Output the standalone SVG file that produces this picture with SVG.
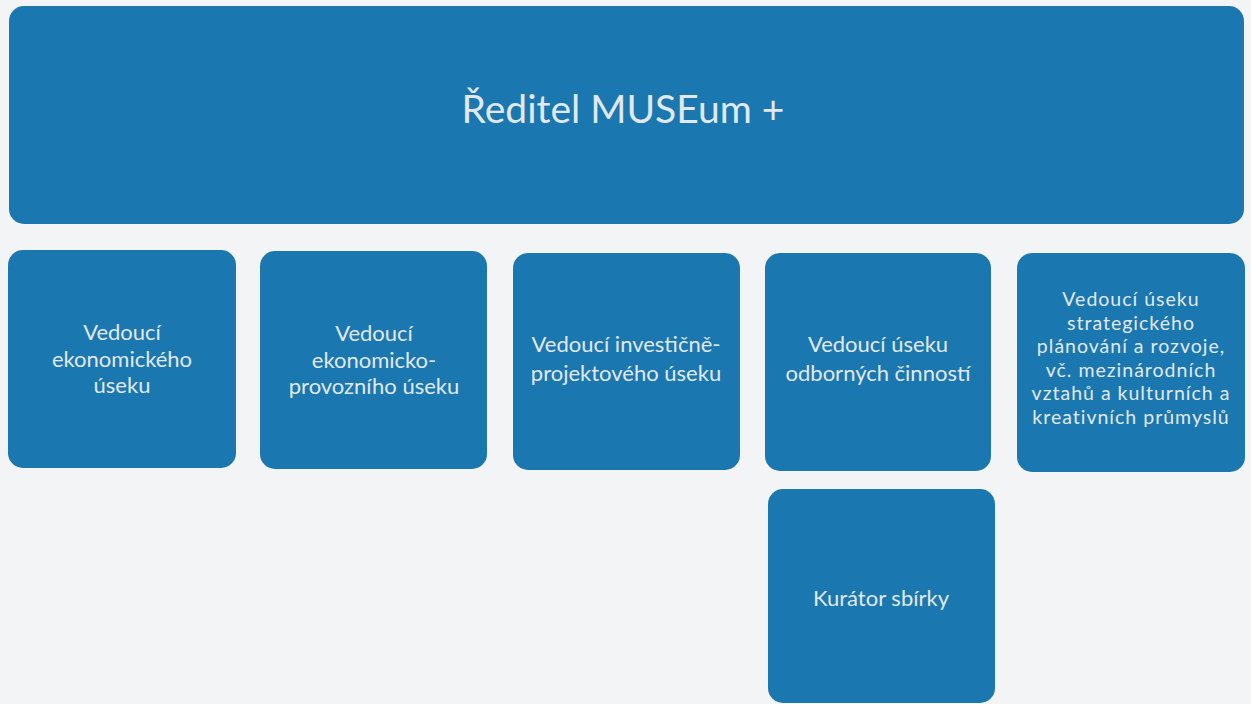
<svg xmlns="http://www.w3.org/2000/svg" width="1251" height="704" viewBox="0 0 1251 704">
<style>
.box{fill:#1a77b0;}
.t{font-family:Lato,"Open Sans","Liberation Sans",sans-serif;fill:#e1e9ef;text-anchor:middle;font-size:22px;}
.title{font-size:39px;}
.dense{font-size:19.5px;letter-spacing:1px;}
</style>
<rect x="0" y="0" width="1251" height="704" fill="#f3f4f6"/>
<g id="connectors"/>
<g id="director">
<rect class="box" x="9" y="6" width="1235" height="218" rx="15"/>
<text class="t title" x="623" y="123">Ředitel MUSEum +</text>
</g>
<g id="ekonomicky">
<rect class="box" x="8" y="250" width="228" height="218" rx="15"/>
<text class="t" x="122" y="340">Vedoucí</text>
<text class="t" x="122" y="367">ekonomického</text>
<text class="t" x="122" y="393">úseku</text>
</g>
<g id="provozni">
<rect class="box" x="260" y="251" width="227" height="218" rx="15"/>
<text class="t" x="374" y="341">Vedoucí</text>
<text class="t" x="374" y="368">ekonomicko-</text>
<text class="t" x="374" y="394">provozního úseku</text>
</g>
<g id="investicni">
<rect class="box" x="513" y="253" width="227" height="217" rx="15"/>
<text class="t" x="626" y="352">Vedoucí investičně-</text>
<text class="t" x="626" y="381">projektového úseku</text>
</g>
<g id="odborne">
<rect class="box" x="765" y="253" width="226" height="218" rx="15"/>
<text class="t" x="878" y="352">Vedoucí úseku</text>
<text class="t" x="878" y="381">odborných činností</text>
</g>
<g id="strategicke">
<rect class="box" x="1017" y="253" width="228" height="219" rx="15"/>
<text class="t dense" x="1131" y="306">Vedoucí úseku</text>
<text class="t dense" x="1131" y="329.5">strategického</text>
<text class="t dense" x="1131" y="353">plánování a rozvoje,</text>
<text class="t dense" x="1131" y="376.5">vč. mezinárodních</text>
<text class="t dense" x="1131" y="400">vztahů a kulturních a</text>
<text class="t dense" x="1131" y="423.5">kreativních průmyslů</text>
</g>
<g id="kurator">
<rect class="box" x="768" y="489" width="227" height="214" rx="15"/>
<text class="t" x="881" y="606">Kurátor sbírky</text>
</g>
</svg>
